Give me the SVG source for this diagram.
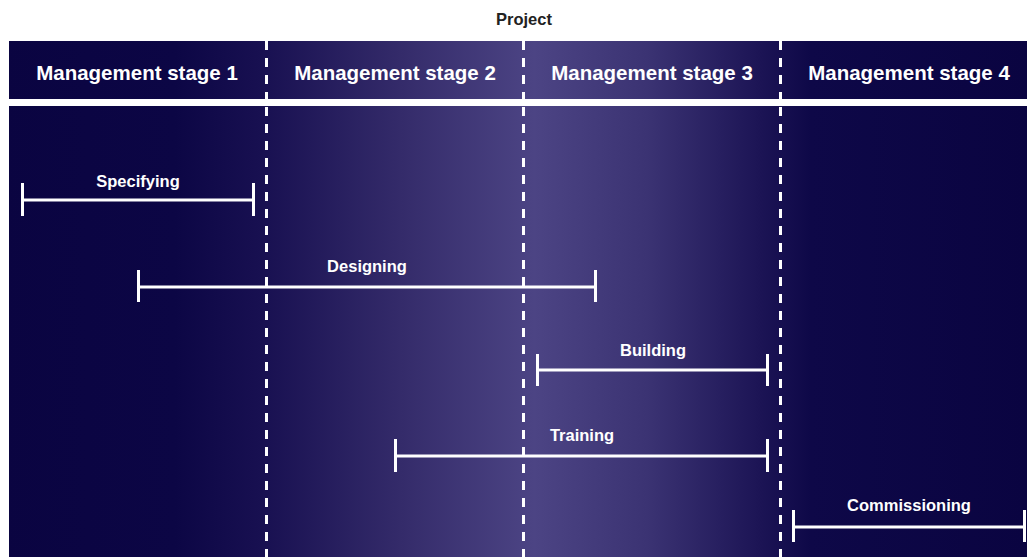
<svg xmlns="http://www.w3.org/2000/svg" width="1027" height="557" viewBox="0 0 1027 557">
  <defs>
    <linearGradient id="bg" gradientUnits="userSpaceOnUse" x1="0" y1="0" x2="1027" y2="0">
      <stop offset="0" stop-color="#0a0441"/>
      <stop offset="0.17" stop-color="#0c0645"/>
      <stop offset="0.255" stop-color="#181051"/>
      <stop offset="0.39" stop-color="#342b6a"/>
      <stop offset="0.52" stop-color="#4c4484"/>
      <stop offset="0.63" stop-color="#3b3373"/>
      <stop offset="0.74" stop-color="#1c1455"/>
      <stop offset="0.79" stop-color="#0e0848"/>
      <stop offset="1" stop-color="#0a0441"/>
    </linearGradient>
    <style>
      .hdr { font-family: "Liberation Sans", Arial, sans-serif; font-weight: bold; font-size: 20.5px; fill: #ffffff; text-anchor: middle; }
      .lbl { font-family: "Liberation Sans", Arial, sans-serif; font-weight: bold; font-size: 16.5px; fill: #ffffff; text-anchor: middle; }
      .title { font-family: "Liberation Sans", Arial, sans-serif; font-weight: bold; font-size: 16.5px; fill: #222222; text-anchor: middle; }
      .div { stroke: #ffffff; stroke-width: 3; stroke-dasharray: 9 8; fill: none; }
      .bar { stroke: #ffffff; stroke-width: 3; fill: none; }
    </style>
  </defs>
  <rect width="1027" height="557" fill="#ffffff"/>
  <text class="title" x="524" y="25">Project</text>
  <rect x="9" y="41" width="1018" height="58" fill="url(#bg)"/>
  <rect x="9" y="106" width="1018" height="451" fill="url(#bg)"/>

  <g id="dividers">
    <line class="div" x1="266.5" y1="41" x2="266.5" y2="99"/>
    <line class="div" x1="266.5" y1="107" x2="266.5" y2="557"/>
    <line class="div" x1="523.5" y1="41" x2="523.5" y2="99"/>
    <line class="div" x1="523.5" y1="107" x2="523.5" y2="557"/>
    <line class="div" x1="780.5" y1="41" x2="780.5" y2="99"/>
    <line class="div" x1="780.5" y1="107" x2="780.5" y2="557"/>
  </g>

  <g id="stage1"><text class="hdr" x="137" y="80">Management stage 1</text></g>
  <g id="stage2"><text class="hdr" x="395" y="80">Management stage 2</text></g>
  <g id="stage3"><text class="hdr" x="652" y="80">Management stage 3</text></g>
  <g id="stage4"><text class="hdr" x="909" y="80">Management stage 4</text></g>

  <g id="connectors">
    <g id="specifying-bar" class="bar">
      <line x1="22" y1="200" x2="253" y2="200"/>
      <line x1="22.5" y1="183" x2="22.5" y2="216"/>
      <line x1="253.5" y1="183" x2="253.5" y2="216"/>
    </g>
    <g id="designing-bar" class="bar">
      <line x1="138" y1="287" x2="596" y2="287"/>
      <line x1="138.5" y1="270" x2="138.5" y2="302"/>
      <line x1="595.5" y1="270" x2="595.5" y2="302"/>
    </g>
    <g id="building-bar" class="bar">
      <line x1="537" y1="370" x2="767" y2="370"/>
      <line x1="537.5" y1="354" x2="537.5" y2="386"/>
      <line x1="767.5" y1="354" x2="767.5" y2="386"/>
    </g>
    <g id="training-bar" class="bar">
      <line x1="395" y1="456" x2="767" y2="456"/>
      <line x1="395.5" y1="439" x2="395.5" y2="472"/>
      <line x1="767.5" y1="439" x2="767.5" y2="472"/>
    </g>
    <g id="commissioning-bar" class="bar">
      <line x1="793" y1="527" x2="1025" y2="527"/>
      <line x1="793.5" y1="510" x2="793.5" y2="542"/>
      <line x1="1024.5" y1="510" x2="1024.5" y2="542"/>
    </g>
  </g>

  <g id="specifying"><text class="lbl" x="138" y="187">Specifying</text></g>
  <g id="designing"><text class="lbl" x="367" y="272">Designing</text></g>
  <g id="building"><text class="lbl" x="653" y="356">Building</text></g>
  <g id="training"><text class="lbl" x="582" y="441">Training</text></g>
  <g id="commissioning"><text class="lbl" x="909" y="511">Commissioning</text></g>
</svg>
